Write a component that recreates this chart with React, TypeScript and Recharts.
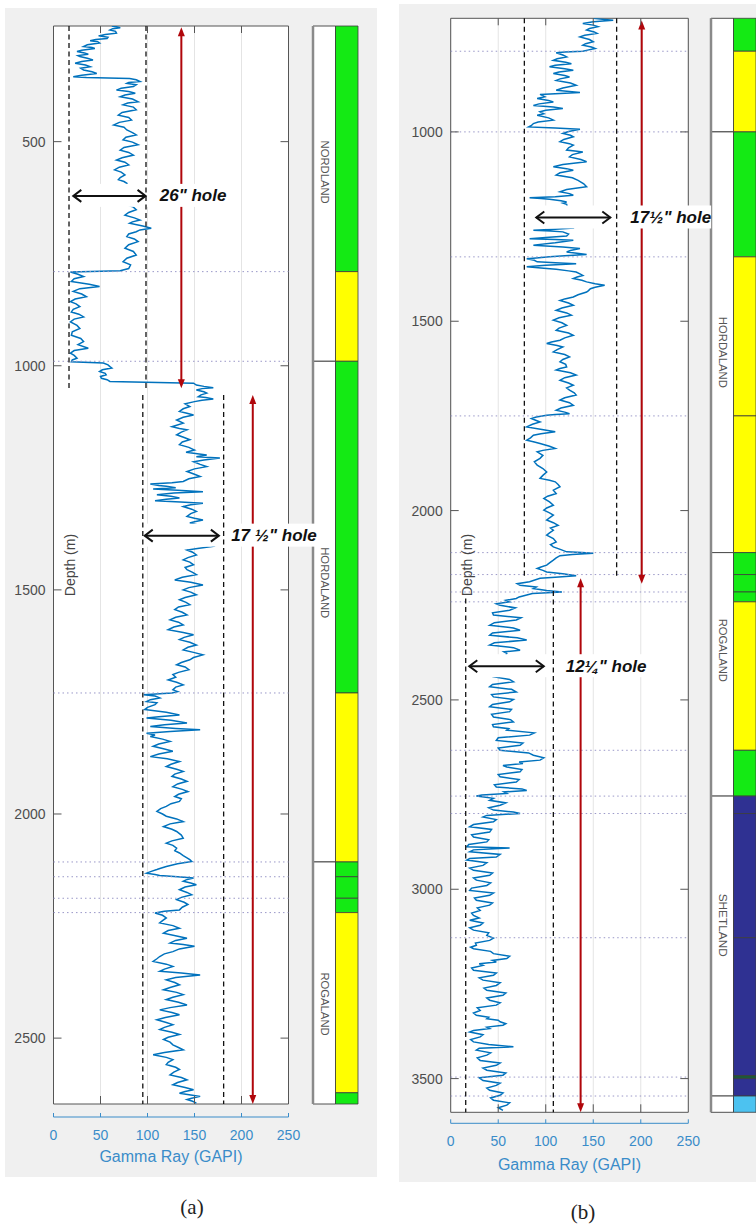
import React from "react";
import {
  LineChart,
  Line,
  XAxis,
  YAxis,
  CartesianGrid,
  ReferenceLine,
  ReferenceArea,
  ReferenceDot,
} from "recharts";

const SANS = '"Liberation Sans", Arial, Helvetica, sans-serif';
const FRAME = "#555555";
const TICK_TEXT = "#4d4d4d";
const AXIS_BLUE = "#3a8cc9";
const CURVE = "#0072bd";
const RED = "#b0060b";
const DOTTED = "#9a98c8";
const FILL: Record<string, string> = {
  A: "#14ea14",
  B: "#ffff00",
  C: "#2f3192",
  D: "#1c5a38",
  E: "#4cc2f0",
};

type Pair = [number, number];

// ---- well (a): [depth m, gamma ray GAPI] ----
const logA26: Pair[] = [
  [242, 62], [244, 68], [246, 71], [248, 63], [251, 60], [254, 66], [258, 67], [261, 55], [264, 48], [267, 58],
  [270, 57], [272, 45], [275, 39], [277, 47], [280, 49], [284, 36], [288, 32], [290, 41], [292, 44], [296, 30],
  [299, 25], [302, 33], [305, 37], [308, 26], [310, 28], [314, 36], [318, 42], [321, 30], [325, 23], [329, 34],
  [333, 39], [336, 29], [340, 32], [344, 41], [348, 46], [352, 30], [355, 21], [357, 35], [359, 81], [362, 88],
  [366, 92], [368, 80], [370, 78], [373, 88], [377, 85], [381, 72], [385, 67], [388, 80], [392, 87], [396, 76],
  [400, 71], [405, 84], [411, 90], [414, 79], [418, 74], [423, 85], [429, 88], [435, 73], [441, 69], [446, 80],
  [452, 83], [457, 70], [463, 64], [468, 75], [474, 78], [480, 84], [485, 88], [490, 77], [496, 74], [501, 84],
  [507, 90], [513, 75], [519, 71], [524, 80], [530, 85], [536, 73], [541, 67], [546, 76], [552, 80], [557, 70],
  [563, 65], [568, 72], [574, 76], [580, 71], [585, 69], [589, 75], [593, 78], [617, 82], [641, 78], [646, 85],
  [652, 88], [658, 80], [664, 76], [670, 86], [675, 92], [679, 84], [682, 81], [688, 95], [693, 104], [697, 92],
  [701, 88], [706, 80], [712, 78], [717, 86], [723, 90], [730, 80], [738, 76], [745, 85], [753, 88], [760, 78],
  [768, 74], [775, 82], [783, 80], [788, 71], [791, 18], [796, 26], [801, 32], [806, 22], [812, 19], [818, 38],
  [823, 49], [828, 28], [834, 21], [840, 30], [846, 35], [851, 23], [857, 18], [862, 24], [868, 28], [874, 21],
  [880, 19], [885, 27], [891, 32], [896, 22], [902, 18], [910, 25], [917, 28], [924, 20], [932, 19], [939, 29],
  [946, 32], [953, 26], [961, 37], [966, 22], [972, 18], [977, 22], [983, 25], [987, 20], [991, 19], [994, 53],
  [998, 58], [1002, 60], [1005, 62], [1009, 52], [1013, 49], [1017, 55], [1020, 56], [1024, 50], [1028, 51], [1031, 57],
  [1035, 60],
];

const logA17: Pair[] = [
  [1039, 149], [1043, 152], [1046, 160], [1049, 170], [1051, 158], [1054, 152], [1058, 160], [1061, 163], [1065, 157], [1069, 154],
  [1071, 162], [1074, 170], [1077, 158], [1080, 150], [1085, 140], [1091, 145], [1096, 138], [1102, 134], [1106, 142], [1110, 149],
  [1115, 138], [1121, 131], [1128, 138], [1136, 126], [1140, 134], [1143, 142], [1148, 136], [1154, 131], [1160, 139], [1165, 145],
  [1170, 137], [1176, 134], [1182, 144], [1188, 150], [1193, 141], [1199, 163], [1203, 152], [1206, 177], [1210, 160], [1214, 149],
  [1220, 156], [1225, 163], [1230, 150], [1236, 142], [1242, 150], [1247, 156], [1252, 144], [1258, 138], [1261, 126], [1264, 103],
  [1267, 112], [1269, 120], [1272, 130], [1275, 106], [1278, 132], [1281, 159], [1284, 128], [1288, 110], [1291, 125], [1295, 134],
  [1298, 120], [1301, 108], [1304, 135], [1307, 159], [1310, 146], [1314, 138], [1320, 147], [1325, 152], [1330, 146], [1336, 142],
  [1340, 150], [1344, 159], [1348, 150], [1351, 145], [1355, 154], [1359, 163], [1380, 150], [1403, 170], [1407, 155], [1411, 142],
  [1416, 148], [1422, 152], [1428, 143], [1433, 138], [1438, 145], [1444, 149], [1450, 140], [1455, 142], [1461, 148], [1466, 152],
  [1472, 137], [1478, 129], [1483, 146], [1489, 159], [1495, 144], [1500, 138], [1505, 146], [1511, 152], [1517, 140], [1522, 134],
  [1528, 141], [1533, 145], [1538, 133], [1544, 129], [1550, 137], [1556, 142], [1561, 130], [1567, 124], [1572, 133], [1578, 138],
  [1583, 128], [1589, 122], [1595, 138], [1600, 149], [1606, 139], [1611, 134], [1617, 145], [1623, 152], [1628, 143], [1634, 138],
  [1640, 150], [1645, 159], [1651, 149], [1656, 145], [1662, 136], [1667, 131], [1672, 140], [1678, 144], [1684, 133], [1689, 127],
  [1695, 130], [1701, 122], [1706, 131], [1712, 138], [1717, 130], [1723, 127], [1727, 132], [1730, 126], [1734, 96], [1737, 108],
  [1741, 113], [1745, 103], [1749, 99], [1752, 110], [1756, 108], [1762, 100], [1767, 97], [1773, 120], [1779, 134], [1783, 112],
  [1786, 99], [1791, 125], [1797, 142], [1801, 118], [1805, 103], [1809, 130], [1812, 156], [1816, 124], [1820, 99], [1824, 108],
  [1827, 103], [1833, 116], [1838, 124], [1844, 112], [1849, 106], [1855, 118], [1860, 127], [1866, 112], [1872, 103], [1877, 121],
  [1883, 134], [1889, 125], [1894, 120], [1900, 131], [1905, 138], [1911, 129], [1916, 126], [1922, 136], [1927, 142], [1933, 132],
  [1939, 127], [1945, 137], [1950, 143], [1956, 133], [1961, 129], [1966, 136], [1972, 134], [1977, 125], [1983, 120], [1988, 114],
  [1994, 110], [2000, 116], [2005, 120], [2011, 131], [2017, 138], [2022, 124], [2028, 117], [2034, 126], [2039, 131], [2047, 136],
  [2054, 138], [2060, 126], [2065, 120], [2070, 127], [2076, 131], [2082, 129], [2087, 134], [2093, 138], [2098, 142], [2102, 145],
  [2106, 147], [2111, 132], [2117, 120], [2121, 114], [2124, 110], [2128, 104], [2132, 99], [2135, 108], [2137, 113], [2140, 132],
  [2143, 149], [2147, 141], [2150, 138], [2154, 146], [2158, 152], [2163, 140], [2169, 134], [2175, 142], [2180, 147], [2186, 136],
  [2191, 131], [2197, 139], [2202, 143], [2208, 137], [2214, 134], [2217, 118], [2221, 108], [2226, 116], [2232, 120], [2238, 116],
  [2243, 113], [2249, 127], [2255, 134], [2260, 122], [2266, 117], [2272, 131], [2277, 142], [2282, 130], [2288, 124], [2291, 138],
  [2295, 150], [2301, 134], [2307, 127], [2312, 118], [2318, 113], [2323, 110], [2329, 106], [2335, 120], [2340, 127], [2346, 118],
  [2351, 113], [2355, 136], [2359, 156], [2365, 130], [2370, 120], [2376, 129], [2381, 134], [2387, 124], [2392, 117], [2398, 131],
  [2403, 138], [2409, 127], [2414, 120], [2420, 133], [2426, 142], [2432, 124], [2437, 113], [2443, 126], [2448, 134], [2454, 119],
  [2459, 110], [2465, 120], [2470, 127], [2476, 118], [2481, 113], [2487, 126], [2492, 134], [2498, 122], [2503, 117], [2509, 124],
  [2515, 127], [2521, 133], [2526, 138], [2532, 118], [2537, 106], [2543, 120], [2548, 127], [2554, 122], [2559, 120], [2565, 130],
  [2570, 134], [2576, 128], [2582, 124], [2588, 136], [2593, 142], [2599, 132], [2604, 127], [2610, 140], [2615, 149], [2619, 140],
  [2623, 134], [2627, 146], [2630, 156], [2634, 147], [2637, 142], [2641, 148], [2645, 152],
];

// ---- well (b) ----
const logB17: Pair[] = [
  [700, 150], [703, 162], [705, 171], [709, 150], [714, 139], [718, 150], [722, 155], [727, 146], [731, 143], [736, 151],
  [740, 154], [745, 141], [749, 136], [756, 146], [762, 150], [767, 142], [771, 139], [776, 148], [780, 152], [784, 144],
  [787, 139], [789, 120], [791, 111], [797, 118], [802, 122], [807, 112], [811, 108], [816, 121], [820, 127], [824, 110],
  [828, 104], [833, 120], [837, 129], [842, 114], [846, 108], [851, 120], [855, 125], [860, 115], [864, 111], [871, 126],
  [877, 132], [884, 118], [890, 111], [893, 125], [896, 136], [899, 110], [901, 94], [907, 99], [912, 91], [917, 103],
  [921, 108], [926, 93], [930, 87], [934, 108], [938, 118], [943, 100], [947, 94], [952, 98], [956, 91], [963, 103],
  [969, 108], [974, 92], [978, 87], [983, 85], [987, 82], [990, 110], [993, 136], [999, 124], [1004, 118], [1009, 126],
  [1013, 129], [1020, 119], [1026, 115], [1031, 125], [1035, 129], [1042, 124], [1048, 122], [1051, 133], [1053, 139], [1060, 128],
  [1066, 125], [1073, 137], [1079, 143], [1086, 118], [1092, 108], [1097, 122], [1101, 129], [1108, 115], [1114, 111], [1121, 128],
  [1128, 134], [1137, 140], [1145, 143], [1152, 122], [1158, 115], [1163, 125], [1167, 129], [1171, 110], [1174, 83], [1176, 95],
  [1178, 104], [1182, 116], [1185, 122], [1188, 118], [1191, 122], [1220, 125], [1254, 129], [1257, 110], [1260, 87], [1262, 105],
  [1264, 118], [1270, 124], [1275, 122], [1279, 100], [1282, 83], [1284, 110], [1286, 129], [1293, 110], [1299, 87], [1304, 118],
  [1308, 136], [1313, 126], [1317, 122], [1321, 135], [1324, 143], [1327, 120], [1330, 104], [1333, 90], [1335, 80], [1339, 88],
  [1343, 91], [1346, 115], [1348, 132], [1352, 100], [1356, 80], [1360, 98], [1363, 111], [1367, 124], [1370, 132], [1375, 136],
  [1379, 139], [1383, 133], [1387, 129], [1392, 138], [1396, 143], [1401, 152], [1405, 162], [1410, 152], [1414, 147], [1419, 145],
  [1423, 143], [1430, 134], [1436, 129], [1441, 120], [1445, 115], [1452, 124], [1458, 129], [1465, 117], [1471, 111], [1478, 122],
  [1484, 127], [1491, 114], [1497, 108], [1504, 117], [1511, 122], [1518, 114], [1524, 111], [1531, 124], [1537, 129], [1544, 120],
  [1550, 115], [1555, 106], [1559, 101], [1564, 112], [1568, 118], [1575, 112], [1581, 108], [1588, 120], [1594, 125], [1601, 118],
  [1607, 115], [1614, 121], [1621, 122], [1625, 115], [1629, 111], [1636, 126], [1642, 132], [1649, 120], [1656, 115], [1663, 124],
  [1669, 129], [1676, 122], [1682, 125], [1689, 130], [1695, 132], [1702, 120], [1708, 115], [1715, 125], [1722, 129], [1729, 116],
  [1735, 111], [1740, 120], [1744, 125], [1746, 110], [1748, 101], [1753, 90], [1757, 85], [1762, 90], [1766, 94], [1772, 86],
  [1779, 80], [1786, 96], [1792, 110], [1797, 95], [1801, 87], [1808, 84], [1814, 80], [1819, 88], [1823, 94], [1830, 104],
  [1836, 110], [1841, 97], [1845, 91], [1854, 97], [1862, 94], [1871, 88], [1880, 91], [1889, 97], [1898, 101], [1907, 97],
  [1915, 94], [1920, 104], [1924, 110], [1931, 113], [1937, 115], [1946, 108], [1955, 111], [1962, 102], [1968, 98], [1977, 104],
  [1986, 108], [1993, 101], [1999, 98], [2006, 104], [2012, 108], [2019, 104], [2025, 101], [2032, 108], [2039, 113], [2046, 105],
  [2052, 108], [2059, 104], [2065, 101], [2074, 108], [2083, 111], [2090, 105], [2096, 108], [2103, 116], [2109, 122], [2111, 138],
  [2113, 150], [2116, 128], [2119, 115], [2125, 111], [2131, 108], [2138, 104], [2144, 101], [2149, 95], [2153, 91], [2158, 97],
  [2162, 101], [2167, 118], [2172, 132], [2176, 110], [2179, 94],
];

const logB12: Pair[] = [
  [2188, 83], [2193, 70], [2197, 73], [2202, 90], [2206, 87], [2211, 101], [2215, 117], [2219, 86], [2223, 80], [2228, 72],
  [2232, 69], [2237, 58], [2241, 62], [2246, 48], [2250, 52], [2257, 68], [2263, 62], [2270, 44], [2276, 45], [2283, 74],
  [2289, 69], [2296, 46], [2303, 41], [2310, 66], [2316, 73], [2323, 44], [2329, 41], [2336, 70], [2342, 80], [2349, 46],
  [2355, 41], [2362, 66], [2369, 73], [2373, 56], [2377, 59], [2405, 55], [2439, 45], [2446, 62], [2452, 66], [2459, 44],
  [2465, 41], [2472, 64], [2479, 69], [2486, 43], [2492, 45], [2499, 66], [2505, 62], [2512, 44], [2518, 41], [2525, 64],
  [2531, 62], [2538, 43], [2545, 45], [2552, 63], [2558, 66], [2565, 44], [2571, 45], [2576, 61], [2580, 59], [2587, 88],
  [2593, 83], [2600, 50], [2607, 48], [2614, 76], [2620, 73], [2627, 50], [2633, 52], [2640, 82], [2646, 87], [2653, 98],
  [2659, 94], [2664, 72], [2668, 76], [2673, 55], [2677, 59], [2684, 75], [2690, 73], [2697, 50], [2703, 52], [2710, 72],
  [2717, 69], [2724, 46], [2730, 48], [2735, 75], [2739, 80], [2743, 56], [2747, 59], [2751, 33], [2754, 27], [2760, 45],
  [2765, 41], [2772, 58], [2778, 52], [2785, 40], [2791, 45], [2796, 66], [2800, 73], [2805, 38], [2809, 34], [2816, 48],
  [2822, 45], [2829, 24], [2835, 20], [2842, 43], [2849, 41], [2856, 22], [2862, 24], [2869, 40], [2875, 38], [2882, 19],
  [2888, 17], [2891, 62], [2896, 24], [2901, 20], [2908, 52], [2915, 48], [2919, 20], [2923, 17], [2930, 38], [2937, 34],
  [2944, 20], [2950, 24], [2957, 44], [2963, 41], [2970, 24], [2976, 27], [2983, 42], [2990, 38], [2997, 22], [3003, 20],
  [3010, 45], [3016, 41], [3023, 25], [3029, 27], [3036, 44], [3042, 41], [3049, 28], [3056, 31], [3063, 22], [3069, 24],
  [3076, 30], [3082, 20], [3089, 34], [3095, 31], [3102, 20], [3108, 24], [3115, 40], [3122, 38], [3129, 45], [3135, 41],
  [3142, 26], [3148, 27], [3153, 21], [3157, 24], [3164, 42], [3170, 45], [3177, 62], [3183, 59], [3188, 44], [3192, 48],
  [3197, 30], [3201, 34], [3208, 22], [3214, 24], [3221, 48], [3227, 45], [3234, 30], [3240, 34], [3247, 52], [3254, 48],
  [3261, 35], [3267, 38], [3274, 58], [3280, 55], [3287, 38], [3293, 41], [3300, 52], [3306, 48], [3313, 28], [3320, 31],
  [3327, 24], [3333, 27], [3338, 40], [3342, 38], [3346, 50], [3350, 52], [3355, 58], [3359, 55], [3364, 38], [3368, 41],
  [3373, 24], [3377, 20], [3384, 34], [3390, 31], [3397, 21], [3403, 24], [3410, 40], [3416, 66], [3420, 30], [3425, 27],
  [3432, 42], [3438, 38], [3445, 28], [3452, 31], [3459, 52], [3465, 48], [3472, 34], [3478, 38], [3485, 58], [3491, 55],
  [3498, 30], [3505, 34], [3512, 52], [3518, 48], [3525, 38], [3531, 41], [3538, 55], [3544, 52], [3551, 42], [3557, 45],
  [3564, 62], [3570, 59], [3577, 50], [3584, 55],
];

const GR_TICKS = [0, 50, 100, 150, 200, 250];
const GR_INNER = [50, 100, 150, 200];
const depthTicksA = [500, 1000, 1500, 2000, 2500];
const depthTicksB = [1000, 1500, 2000, 2500, 3000, 3500];
const domainA: [number, number] = [242, 2647];
const domainB: [number, number] = [700, 3589];

// formation tops shown as dotted lines
const topsA = [790, 990, 1730, 2107, 2140, 2188, 2220];
const topsB = [787, 1000, 1330, 1750, 2111, 2169, 2215, 2241, 2633, 2754, 2800, 3128, 3496, 3546];

// bit sections: dashed bounds, double arrow, label (GR / depth units)
const holesA = [
  { label: '26" hole', left: 16.5, right: 98.4, top: 242, base: 1050, arrowAt: 621, from: 20, to: 99, textAt: 113, boxTo: 192 },
  { label: '17 ½" hole', left: 95, right: 181, top: 1065, base: 2647, arrowAt: 1379, from: 96, to: 177, textAt: 189, boxTo: 285 },
];
const holesB = [
  { label: '17½" hole', left: 77.5, right: 174.6, top: 700, base: 2179, arrowAt: 1226, from: 89, to: 169, textAt: 189, boxTo: 274 },
  { label: '12¼" hole', left: 15.8, right: 108, top: 2190, leftTop: 2232, base: 3589, arrowAt: 2411, from: 18.5, to: 99, textAt: 121, boxTo: 214 },
];
const redsA = [
  { gr: 136, top: 245, base: 1050 },
  { gr: 212, top: 1065, base: 2647 },
];
const redsB = [
  { gr: 201, top: 706, base: 2193 },
  { gr: 136.7, top: 2179, base: 3589 },
];

// stratigraphy column
const unitsA = [
  { top: 242, base: 790, kind: "A" },
  { top: 790, base: 990, kind: "B" },
  { top: 990, base: 1730, kind: "A" },
  { top: 1730, base: 2107, kind: "B" },
  { top: 2107, base: 2140, kind: "A" },
  { top: 2140, base: 2188, kind: "A" },
  { top: 2188, base: 2220, kind: "A" },
  { top: 2220, base: 2622, kind: "B" },
  { top: 2622, base: 2647, kind: "A" },
];
const groupsA = [
  { name: "NORDLAND", top: 242, base: 990, labelAt: 568 },
  { name: "HORDALAND", top: 990, base: 2107, labelAt: 1484 },
  { name: "ROGALAND", top: 2107, base: 2647, labelAt: 2424 },
];
const unitsB = [
  { top: 700, base: 787, kind: "A" },
  { top: 787, base: 1000, kind: "B" },
  { top: 1000, base: 1330, kind: "A" },
  { top: 1330, base: 1750, kind: "B" },
  { top: 1750, base: 2111, kind: "B" },
  { top: 2111, base: 2169, kind: "A" },
  { top: 2169, base: 2215, kind: "A" },
  { top: 2215, base: 2241, kind: "A" },
  { top: 2241, base: 2633, kind: "B" },
  { top: 2633, base: 2754, kind: "A" },
  { top: 2754, base: 2800, kind: "C" },
  { top: 2800, base: 3128, kind: "C" },
  { top: 3128, base: 3492, kind: "C" },
  { top: 3492, base: 3500, kind: "D" },
  { top: 3500, base: 3546, kind: "C" },
  { top: 3546, base: 3589, kind: "E" },
];
const groupsB = [
  { name: "", top: 700, base: 1000, labelAt: 850 },
  { name: "HORDALAND", top: 1000, base: 2111, labelAt: 1582 },
  { name: "ROGALAND", top: 2111, base: 2754, labelAt: 2369 },
  { name: "SHETLAND", top: 2754, base: 3546, labelAt: 3095 },
  { name: "", top: 3546, base: 3589, labelAt: 3570 },
];

const toRows = (...parts: Pair[][]) => parts.flat().map(([depth, gr]) => ({ depth, gr }));

// depth tick: label outside left, inward marks on both sides of the box
const makeDepthTick = (pw: number) => (p: any) => (
  <g>
    <line x1={p.x} x2={p.x + 8} y1={p.y} y2={p.y} stroke={FRAME} />
    <line x1={p.x + pw - 8} x2={p.x + pw} y1={p.y} y2={p.y} stroke={FRAME} />
    <text x={p.x - 8} y={p.y} textAnchor="end" dominantBaseline="central" fontSize={14} fontFamily={SANS} fill={TICK_TEXT}>
      {p.payload.value}
    </text>
  </g>
);
const TopTick = (p: any) => <line x1={p.x} x2={p.x} y1={p.y} y2={p.y + 7} stroke={FRAME} />;
const BottomTick = (p: any) => <line x1={p.x} x2={p.x} y1={p.y} y2={p.y - 8} stroke={FRAME} />;
const BlueTick = (p: any) => (
  <g>
    <line x1={p.x} x2={p.x} y1={p.y} y2={p.y - 4} stroke={AXIS_BLUE} />
    <text x={p.x} y={p.y + 18} textAnchor="middle" dominantBaseline="central" fontSize={14} fontFamily={SANS} fill={AXIS_BLUE}>
      {p.payload.value}
    </text>
  </g>
);

const RedArrow = (p: any) => {
  const x = p.x1;
  const t = Math.min(p.y1, p.y2);
  const b = Math.max(p.y1, p.y2);
  return (
    <g>
      <line x1={x} x2={x} y1={t + 6} y2={b - 6} stroke={RED} strokeWidth={2} />
      <path d={`M${x} ${t} L${x - 3.5} ${t + 9} L${x + 3.5} ${t + 9} Z`} fill={RED} />
      <path d={`M${x} ${b} L${x - 3.5} ${b - 9} L${x + 3.5} ${b - 9} Z`} fill={RED} />
    </g>
  );
};

// white text box + double arrow + bit-size label, placed with the arrow's own scale
const HoleArrow = (p: any) => {
  const h = p.hole;
  const y = p.y1;
  const l = Math.min(p.x1, p.x2);
  const r = Math.max(p.x1, p.x2);
  const k = (r - l) / (h.to - h.from);
  const boxL = l - 3;
  const boxR = l + (h.boxTo - h.from) * k;
  const tx = l + (h.textAt - h.from) * k;
  return (
    <g>
      <rect x={boxL} y={y - 12} width={boxR - boxL} height={23} fill="#ffffff" />
      <g fill="none" stroke="#111" strokeWidth={2}>
        <line x1={l + 1} x2={r - 1} y1={y} y2={y} />
        <polyline points={`${l + 9},${y - 6} ${l + 1},${y} ${l + 9},${y + 6}`} />
        <polyline points={`${r - 9},${y - 6} ${r - 1},${y} ${r - 9},${y + 6}`} />
      </g>
      <text x={tx} y={y} dominantBaseline="central" fontSize={17} fontWeight="bold" fontStyle="italic" fontFamily={SANS} fill="#111">
        {h.label}
      </text>
    </g>
  );
};

function LogPanel(props: any) {
  const { rows, domain, depthTicks, tops, holes, reds, left, width, height, margin, gap, yw } = props;
  const ids = { xAxisId: "gr", yAxisId: "depth" };
  const pw = width - margin.left - yw - margin.right;
  const DepthTick = makeDepthTick(pw);
  return (
    <div style={{ position: "absolute", left, top: 0 }}>
      <LineChart layout="vertical" width={width} height={height} data={rows} margin={margin}>
        <CartesianGrid {...ids} horizontal={false} stroke="#e4e4e4" fill="#ffffff" />
        <XAxis xAxisId="top" orientation="top" type="number" domain={[0, 250]} ticks={GR_INNER} interval={0}
          height={1} axisLine={false} tickLine={false} tickSize={0} tickMargin={0} tick={<TopTick />} allowDataOverflow />
        <XAxis xAxisId="frame" orientation="bottom" type="number" domain={[0, 250]} ticks={GR_INNER} interval={0}
          height={gap} axisLine={false} tickLine={false} tickSize={0} tickMargin={0} tick={<BottomTick />} allowDataOverflow />
        <XAxis xAxisId="gr" orientation="bottom" type="number" domain={[0, 250]} ticks={GR_TICKS} interval={0}
          height={60} axisLine={{ stroke: AXIS_BLUE }} tickLine={false} tickSize={0} tickMargin={0} tick={<BlueTick />} allowDataOverflow />
        <YAxis yAxisId="depth" orientation="left" type="number" dataKey="depth" domain={domain} ticks={depthTicks} interval={0}
          width={yw} axisLine={false} tickLine={false} tickSize={0} tickMargin={0} tick={<DepthTick />} allowDataOverflow />

        <Line {...ids} dataKey="gr" stroke={CURVE} strokeWidth={1.5} dot={false} isAnimationActive={false} />

        {tops.map((t: number) => (
          <ReferenceLine key={`t${t}`} {...ids} y={t} stroke={DOTTED} strokeWidth={1} strokeDasharray="1.5 3" />
        ))}
        {reds.map((r: any, i: number) => (
          <ReferenceLine key={`r${i}`} {...ids} segment={[{ x: r.gr, y: r.top }, { x: r.gr, y: r.base }]} shape={RedArrow} />
        ))}
        {holes.map((h: any, i: number) => (
          <ReferenceLine key={`a${i}`} {...ids} segment={[{ x: h.from, y: h.arrowAt }, { x: h.to, y: h.arrowAt }]}
            shape={(sp: any) => <HoleArrow {...sp} hole={h} />} />
        ))}
        {holes.map((h: any, i: number) => (
          <ReferenceLine key={`dl${i}`} {...ids} segment={[{ x: h.left, y: h.leftTop ?? h.top }, { x: h.left, y: h.base }]}
            stroke="#111" strokeWidth={1.3} strokeDasharray="5 3.5" />
        ))}
        {holes.map((h: any, i: number) => (
          <ReferenceLine key={`dr${i}`} {...ids} segment={[{ x: h.right, y: h.top }, { x: h.right, y: h.base }]}
            stroke="#111" strokeWidth={1.3} strokeDasharray="5 3.5" />
        ))}
        <ReferenceArea {...ids} x1={0} x2={250} y1={domain[0]} y2={domain[1]} fill="none" fillOpacity={0} stroke={FRAME} strokeWidth={1} ifOverflow="visible" />
      </LineChart>
    </div>
  );
}

function StratPanel(props: any) {
  const { units, groups, domain, left, width, height, margin } = props;
  return (
    <div style={{ position: "absolute", left, top: 0, width, height, overflow: "hidden" }}>
      <LineChart layout="vertical" width={width} height={height} data={[{ depth: domain[0], v: 0 }]} margin={margin}>
        <XAxis type="number" domain={[0, 2]} hide allowDataOverflow />
        <YAxis type="number" dataKey="depth" domain={domain} hide allowDataOverflow />
        {groups.map((g: any, i: number) => (
          <ReferenceArea key={`g${i}`} x1={0} x2={1} y1={g.top} y2={g.base} fill="#ffffff" fillOpacity={1} stroke="#3c3c3c" strokeWidth={0.9} />
        ))}
        {units.map((u: any, i: number) => (
          <ReferenceArea key={`u${i}`} x1={1} x2={2} y1={u.top} y2={u.base} fill={FILL[u.kind]} fillOpacity={1} stroke="#3c3c3c" strokeWidth={0.8} />
        ))}
        <ReferenceLine x={0} stroke="#8a8a8a" strokeWidth={2.5} />
        {groups.filter((g: any) => g.name).map((g: any, i: number) => (
          <ReferenceDot key={`n${i}`} x={0.5} y={g.labelAt} r={0} fill="none" stroke="none" ifOverflow="visible"
            label={{
              content: (lp: any) => {
                const vb = lp.viewBox || {};
                return (
                  <text x={vb.x} y={vb.y} transform={`rotate(90 ${vb.x} ${vb.y})`} textAnchor="middle" dominantBaseline="central"
                    fontSize={10} fontFamily={SANS} fill="#555" textLength={g.name.length * 7.9} lengthAdjust="spacingAndGlyphs">
                    {g.name}
                  </text>
                );
              },
            }} />
        ))}
      </LineChart>
    </div>
  );
}

const caption: React.CSSProperties = {
  position: "absolute",
  width: 40,
  textAlign: "center",
  fontFamily: '"Liberation Serif", "Times New Roman", serif',
  fontSize: 21,
  lineHeight: "24px",
  color: "#222",
};
const grTitle: React.CSSProperties = {
  position: "absolute",
  width: 200,
  textAlign: "center",
  fontFamily: SANS,
  fontSize: 16,
  lineHeight: "20px",
  color: AXIS_BLUE,
};
const depthTitle: React.CSSProperties = {
  position: "absolute",
  width: 100,
  textAlign: "center",
  fontFamily: SANS,
  fontSize: 14,
  lineHeight: "16px",
  color: "#454545",
  transform: "rotate(-90deg)",
  transformOrigin: "50% 50%",
};

export default function App() {
  return (
    <div style={{ position: "absolute", left: 0, top: 0, width: 756, height: 1226, background: "#ffffff", overflow: "hidden" }}>
      <div style={{ position: "absolute", left: 5, top: 8, width: 372, height: 1169, background: "#f0f0f0" }} />
      <div style={{ position: "absolute", left: 399, top: 4, width: 357, height: 1178, background: "#f0f0f0" }} />

      <StratPanel units={unitsA} groups={groupsA} domain={domainA} left={300} width={70} height={1180}
        margin={{ left: 13, right: 12, top: 26, bottom: 76 }} />
      <LogPanel rows={toRows(logA26, logA17)} domain={domainA} depthTicks={depthTicksA} tops={topsA} holes={holesA} reds={redsA}
        left={0} width={330} height={1180} gap={13} yw={40}
        margin={{ left: 13.5, right: 41.5, top: 25, bottom: 3 }} />

      <StratPanel units={unitsB} groups={groupsB} domain={domainB} left={700} width={56} height={1190}
        margin={{ left: 11, right: 0, top: 18.3, bottom: 77.7 }} />
      <LogPanel rows={toRows(logB17, logB12)} domain={domainB} depthTicks={depthTicksB} tops={topsB} holes={holesB} reds={redsB}
        left={392} width={330} height={1190} gap={11} yw={45}
        margin={{ left: 13.7, right: 33.7, top: 17.3, bottom: 6.7 }} />

      <div style={{ ...depthTitle, left: 70 - 50, top: 565 - 8 }}>Depth (m)</div>
      <div style={{ ...depthTitle, left: 466.5 - 50, top: 565 - 8 }}>Depth (m)</div>
      <div style={{ ...grTitle, left: 171 - 100, top: 1157 - 10 }}>Gamma Ray (GAPI)</div>
      <div style={{ ...grTitle, left: 569.5 - 100, top: 1165 - 10 }}>Gamma Ray (GAPI)</div>

      <div style={{ ...caption, left: 172, top: 1195 }}>(a)</div>
      <div style={{ ...caption, left: 563, top: 1200 }}>(b)</div>
    </div>
  );
}
